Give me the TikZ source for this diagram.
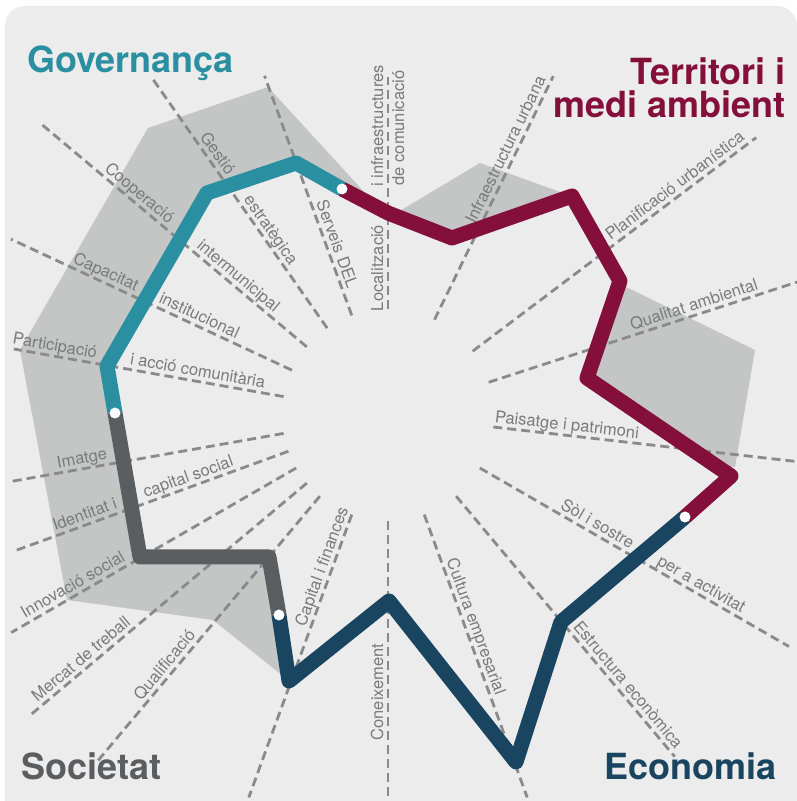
\documentclass[tikz,border=0pt]{standalone}
\usepackage{fontspec}
\setmainfont{TeX Gyre Heros}
\usepackage{tikz}
\usetikzlibrary{calc}

\definecolor{govcol}{HTML}{2A8FA0}
\definecolor{tercol}{HTML}{840F3A}
\definecolor{ecocol}{HTML}{1A4560}
\definecolor{soccol}{HTML}{5B5E60}
\definecolor{bgcol}{HTML}{ECECEC}
\definecolor{refcol}{HTML}{C4C5C5}
\definecolor{spkcol}{HTML}{8A8A8A}
\definecolor{lblcol}{HTML}{7A7A7A}

\begin{document}
\begin{tikzpicture}[x=1pt, y=1pt,
    spoke/.style={draw=spkcol, line width=2.8pt, dash pattern=on 9pt off 5pt},
    lbl/.style={text=lblcol, font=\fontsize{16.5}{18}\selectfont, inner sep=1.5pt},
    dim/.style={line width=15pt, line join=round},
    title/.style={font=\fontsize{36}{37}\selectfont\bfseries, inner sep=0pt},
    dot/.style={circle, fill=white, inner sep=0pt, minimum size=11pt}
]
\useasboundingbox (0,0) rectangle (797,801);
\clip (0,0) rectangle (797,801);
\fill[white] (0,0) rectangle (797,801);
\fill[bgcol, rounded corners=20pt] (5,-30) rectangle (797,795);

\coordinate (C) at (388,386);

% data polygon
\coordinate (g0) at (115,388);
\coordinate (g1) at (107,435);
\coordinate (g2) at (207,608);
\coordinate (g3) at (296,638);
\coordinate (g4) at (342,612);
\coordinate (t0) at (388,588);
\coordinate (t1) at (452,563);
\coordinate (t2) at (572,605);
\coordinate (t3) at (620,520);
\coordinate (t4) at (587,423);
\coordinate (t5) at (731,325);
\coordinate (t6) at (685,284);
\coordinate (e1) at (561,179);
\coordinate (e2) at (516,39);
\coordinate (e3) at (389,200);
\coordinate (e4) at (289,120);
\coordinate (e5) at (279,186);
\coordinate (s1) at (269,244);
\coordinate (s2) at (140,244);

% reference area
\fill[refcol] (148,673) -- (268,714) -- (388,583) -- (480,638) -- (560,609)
  -- (622,516) -- (755,451) -- (735,334) -- (450,351) -- (300,201)
  -- (283,125) -- (213,181) -- (67,201) -- (20,451) -- cycle;
\fill[bgcol] (g0) -- (g1) -- (g2) -- (g3) -- (g4) -- (t0) -- (t1) -- (t2) -- (t3)
  -- (t4) -- (t5) -- (t6) -- (e1) -- (e2) -- (e3) -- (e4) -- (e5) -- (s1) -- (s2) -- cycle;

% spokes
\foreach \a/\r in {90/338, 64/377, 37/461, 18/430, -6.5/412, -30/463, -50/446,
    -70/407, -90/381, -110/407, -130/451, -140/470, -150/435, -160/397,
    -170/381, 170/380, 155/416, 140/456, 125/413, 110/361}
  \draw[spoke] ($(C)+(\a:106)$) -- ($(C)+(\a:\r)$);

% labels
\foreach \a/\r/\rot/\txt [count=\i] in {
    64/290/64/Infraestructura urbana,
    37/367/37/Planificació urbanística,
    18/325/18/Qualitat ambiental,
    -6.5/179/-6.5/Paisatge i patrimoni,
    -30/236/-30/Sòl i sostre,
    -30/356/-30/per a activitat,
    -50/361/-50/Estructura econòmica,
    -70/229/-70/Cultura empresarial,
    -90/277/90/Coneixement,
    -110/165/70/Capital i finances,
    -130/335/50/Qualificació,
    -140/392/40/Mercat de treball,
    -150/358/30/Innovació social,
    -160/319/20/Identitat i,
    -160/209/20/capital social,
    -170/309/10/Imatge,
    170/340/-10/Participació,
    170/195/-10/i acció comunitària,
    155/316/-25/Capacitat,
    155/213/-25/institucional,
    140/333/-40/Cooperació,
    140/204/-40/intermunicipal,
    125/312/-55/Gestió,
    125/219/-55/estratègica,
    110/178/-70/Serveis DEL,
    90/147/90/Localització,
    90/289/90/i infraestructures}
  \node[lbl, rotate=\rot, anchor=base] (lbl\i) at ($(C)+(\a:\r)+({\rot+90}:5)$) {\txt};
\node[lbl, rotate=90, anchor=north] (comlbl) at ($(C)+(90:287)+(0:2.5)$) {de comunicació};

% dimension lines
\draw[dim, govcol] (g0) -- (g1) -- (g2) -- (g3) -- (g4);
\draw[dim, tercol] (g4) -- (t0) -- (t1) -- (t2) -- (t3) -- (t4) -- (t5) -- (t6);
\draw[dim, ecocol] (t6) -- (e1) -- (e2) -- (e3) -- (e4) -- (e5);
\draw[dim, soccol] (e5) -- (s1) -- (s2) -- (g0);

\node[dot] (d1) at (g0) {};
\node[dot] (d2) at (g4) {};
\node[dot] (d3) at (t6) {};
\node[dot] (d4) at (e5) {};

% titles
\node[title, text=govcol, anchor=base west] (gov) at (27,728) {Governança};
\node[title, text=tercol, anchor=base east] (ter1) at (786,716) {Territori i};
\node[title, text=tercol, anchor=base east] (ter2) at (786,683) {medi ambient};
\node[title, text=soccol, anchor=base west] (soc) at (21,21) {Societat};
\node[title, text=ecocol, anchor=base east] (eco) at (777,21) {Economia};
\end{tikzpicture}
\end{document}
